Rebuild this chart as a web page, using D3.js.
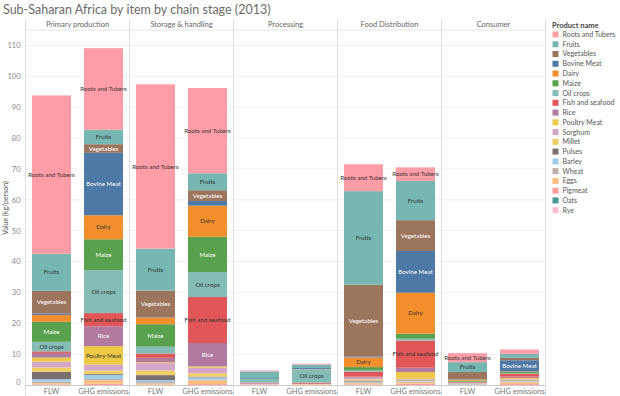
<!DOCTYPE html>
<html>
<head>
<meta charset="utf-8">
<script src="https://cdn.jsdelivr.net/npm/d3@7"></script>
<style>
  body { margin: 0; background: #fff; font-family: Lato, "Open Sans", sans-serif; }
  svg text { font-family: Lato, "Open Sans", sans-serif; }
</style>
</head>
<body>
<svg id="chart" width="620" height="396"></svg>
<script>
// chain stages (columns) and measures inside each stage
const stages = ['Primary production', 'Storage & handling', 'Processing', 'Food Distribution', 'Consumer'];
const measures = ['FLW', 'GHG emissions'];
const yTicks = [0, 10, 20, 30, 40, 50, 60, 70, 80, 90, 100, 110];

// legend order = top of stack first
const products = ['Roots and Tubers', 'Fruits', 'Vegetables', 'Bovine Meat', 'Dairy', 'Maize', 'Oil crops',
  'Fish and seafood', 'Rice', 'Poultry Meat', 'Sorghum', 'Millet', 'Pulses', 'Barley', 'Wheat', 'Eggs',
  'Pigmeat', 'Oats', 'Rye'];
const colors = ['#ff9da7', '#76b7b2', '#9c755f', '#4e79a7', '#f28e2b', '#59a14f', '#86bcb6',
  '#e15759', '#b07aa1', '#edc948', '#d4a6c8', '#f1ce63', '#79706e', '#a0cbe8', '#bab0ac', '#ffbe7d',
  '#ff9d9a', '#499894', '#fabfd2'];

// values (kg/person), order: PP FLW, PP GHG, SH FLW, SH GHG, PR FLW, PR GHG, FD FLW, FD GHG, CO FLW, CO GHG
const rootsAndTubers = [51.3, 26.4, 53.2, 27.6, 0.3, 0.3, 8.7, 4.4, 2.9, 1.4];
const fruits         = [12.0, 4.7, 13.6, 5.5, 2.2, 1.1, 30.3, 12.7, 3.2, 1.3];
const vegetables     = [7.3, 2.8, 8.7, 3.5, 0.0, 0.0, 23.3, 10.0, 2.4, 0.8];
const bovineMeat     = [0.5, 20.2, 0.1, 1.5, 0.3, 0.3, 0.3, 13.5, 0.1, 3.6];
const dairy          = [2.2, 7.8, 2.1, 10.1, 0.0, 0.1, 3.1, 13.3, 0.3, 0.2];
const maize          = [6.5, 10.0, 7.3, 11.4, 0.1, 0.0, 1.1, 1.6, 0.3, 0.4];
const oilCrops       = [3.1, 13.9, 2.2, 8.1, 1.1, 4.4, 0.4, 0.6, 0.2, 0.2];
const fishAndSeafood = [0.5, 4.3, 1.4, 14.9, 0.2, 0.3, 1.6, 8.8, 0.2, 0.9];
const rice           = [1.5, 6.4, 1.4, 7.6, 0.1, 0.0, 0.3, 1.4, 0.1, 0.4];
const poultryMeat    = [1.3, 6.0, 0.3, 0.4, 0.0, 0.0, 0.1, 2.2, 0.0, 0.4];
const sorghum        = [1.9, 1.9, 2.4, 1.8, 0.2, 0.1, 0.5, 0.3, 0.1, 0.2];
const millet         = [1.4, 1.1, 1.5, 1.1, 0.0, 0.0, 0.4, 0.2, 0.1, 0.2];
const pulses         = [2.4, 0.3, 1.6, 0.2, 0.0, 0.0, 0.3, 0.2, 0.1, 0.2];
const barley         = [0.8, 1.3, 0.6, 0.7, 0.0, 0.0, 0.3, 0.2, 0.1, 0.2];
const wheat          = [0.5, 0.5, 0.5, 0.3, 0.0, 0.0, 0.2, 0.1, 0.1, 0.2];
const eggs           = [0.4, 1.1, 0.4, 1.2, 0.1, 0.2, 0.4, 0.5, 0.1, 0.6];
const pigmeat        = [0.2, 0.4, 0.1, 0.3, 0.1, 0.1, 0.2, 0.5, 0.0, 0.3];
const oats           = [0, 0, 0, 0, 0, 0, 0, 0, 0, 0];
const rye            = [0, 0, 0, 0, 0, 0, 0, 0, 0, 0];

const series = [rootsAndTubers, fruits, vegetables, bovineMeat, dairy, maize, oilCrops, fishAndSeafood, rice,
  poultryMeat, sorghum, millet, pulses, barley, wheat, eggs, pigmeat, oats, rye];
const whiteLabel = new Set(['Vegetables', 'Bovine Meat', 'Maize', 'Rice']);

// build one row per bar
const rows = [];
stages.forEach((s, i) => {
  measures.forEach((m, j) => {
    const row = { stage: s, measure: m };
    products.forEach((p, k) => { row[p] = series[k][i * 2 + j]; });
    rows.push(row);
  });
});

const svg = d3.select('#chart');
const plot = { left: 25.5, right: 545.5, top: 30, bottom: 385 };

const color = d3.scaleOrdinal().domain(products).range(colors);
const xStage = d3.scaleBand().domain(stages).range([plot.left, plot.right]);
const xMeasure = d3.scaleBand().domain(measures).range([0, xStage.bandwidth()])
  .paddingInner(0.25).paddingOuter(0.125);
const y = d3.scaleLinear().domain([0, 115]).range([plot.bottom, plot.top]);

// title
svg.append('text')
  .attr('x', 3).attr('y', 14)
  .attr('font-size', 12.5).attr('fill', '#6b6b6b')
  .text('Sub-Saharan Africa by item by chain stage (2013)');

// gridlines
svg.append('g').selectAll('line')
  .data(yTicks.filter(d => d > 0))
  .enter().append('line')
  .attr('x1', plot.left).attr('x2', plot.right)
  .attr('y1', d => y(d)).attr('y2', d => y(d))
  .attr('stroke', '#f0f0f0');

// panel dividers and header
svg.append('line')
  .attr('x1', plot.left).attr('x2', plot.right)
  .attr('y1', plot.top).attr('y2', plot.top)
  .attr('stroke', '#e4e4e4');
svg.append('g').selectAll('line')
  .data(stages.map(s => xStage(s)).concat([plot.right]))
  .enter().append('line')
  .attr('x1', d => d).attr('x2', d => d)
  .attr('y1', 20).attr('y2', 396)
  .attr('stroke', '#dcdcdc');
svg.append('g').selectAll('text')
  .data(stages)
  .enter().append('text')
  .attr('x', d => xStage(d) + xStage.bandwidth() / 2)
  .attr('y', 26.5)
  .attr('text-anchor', 'middle')
  .attr('font-size', 7.5).attr('fill', '#666')
  .text(d => d);

// y axis
const yAxis = d3.axisLeft(y).tickValues(yTicks).tickSize(0).tickPadding(5);
const yg = svg.append('g')
  .attr('transform', `translate(${plot.left},0)`)
  .call(yAxis);
yg.select('.domain').remove();
yg.selectAll('text').attr('font-size', 7.5).attr('fill', '#888')
  .attr('dy', d => d === 0 ? '-0.1em' : '0.32em');

svg.append('text')
  .attr('transform', 'translate(8,208) rotate(-90)')
  .attr('text-anchor', 'middle')
  .attr('font-size', 7).attr('fill', '#555')
  .text('Value (kg/person)');

// bottom axis line
svg.append('line')
  .attr('x1', plot.left).attr('x2', plot.right)
  .attr('y1', plot.bottom + 0.5).attr('y2', plot.bottom + 0.5)
  .attr('stroke', '#ccc');

// bars
const stack = d3.stack().keys(products.slice().reverse());
const layers = stack(rows);

const barG = svg.append('g');
layers.forEach(layer => {
  barG.append('g')
    .attr('fill', color(layer.key))
    .selectAll('rect')
    .data(layer)
    .enter().append('rect')
    .attr('x', d => xStage(d.data.stage) + xMeasure(d.data.measure))
    .attr('width', xMeasure.bandwidth())
    .attr('y', d => y(d[1]))
    .attr('height', d => Math.max(0, y(d[0]) - y(d[1])));
});

// segment labels where they fit
const labelG = svg.append('g');
layers.forEach(layer => {
  labelG.selectAll(null)
    .data(layer.filter(d => d[1] - d[0] >= 2.6))
    .enter().append('text')
    .attr('x', d => xStage(d.data.stage) + xMeasure(d.data.measure) + xMeasure.bandwidth() / 2)
    .attr('y', d => (y(d[0]) + y(d[1])) / 2)
    .attr('dy', '0.35em')
    .attr('text-anchor', 'middle')
    .attr('font-size', 6.2)
    .attr('fill', whiteLabel.has(layer.key) ? '#fff' : '#333')
    .text(layer.key);
});

// x labels
svg.append('g').selectAll('text')
  .data(rows)
  .enter().append('text')
  .attr('x', d => xStage(d.stage) + xMeasure(d.measure) + xMeasure.bandwidth() / 2)
  .attr('y', 393.5)
  .attr('text-anchor', 'middle')
  .attr('font-size', 7.5).attr('fill', '#777')
  .text(d => d.measure);

// legend
const legend = svg.append('g').attr('transform', 'translate(552,0)');
legend.append('text')
  .attr('x', 0).attr('y', 28)
  .attr('font-size', 7.5).attr('font-weight', 'bold').attr('fill', '#444')
  .text('Product name');
const item = legend.selectAll('g.item')
  .data(products)
  .enter().append('g')
  .attr('class', 'item')
  .attr('transform', (d, i) => `translate(0,${31.5 + i * 9.76})`);
item.append('rect')
  .attr('x', 0.5).attr('width', 6).attr('height', 6)
  .attr('fill', d => color(d));
item.append('text')
  .attr('x', 10.5).attr('y', 3)
  .attr('dy', '0.35em')
  .attr('font-size', 7).attr('fill', '#555')
  .text(d => d);
</script>
</body>
</html>
